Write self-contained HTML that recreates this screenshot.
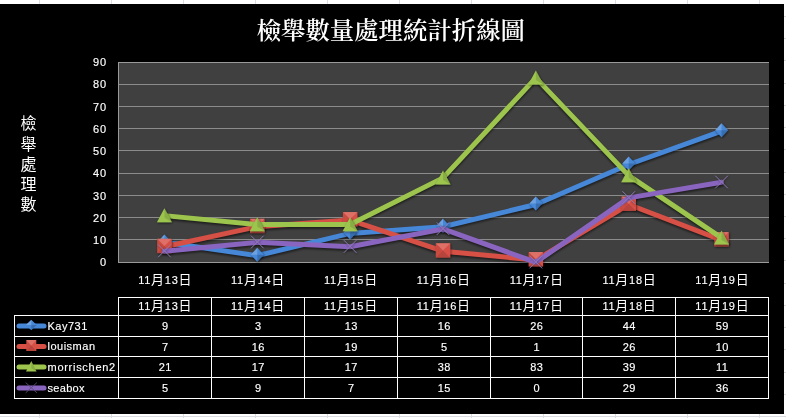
<!DOCTYPE html><html><head><meta charset="utf-8"><title>檢舉數量處理統計折線圖</title><style>
html,body{margin:0;padding:0;background:#fff;}body{width:786px;height:418px;overflow:hidden;position:relative;}
svg{position:absolute;left:0;top:0;display:block;}
.t{font-family:"Liberation Sans","Noto Sans CJK TC","Noto Sans CJK SC",sans-serif;fill:#fff;stroke:#fff;stroke-width:0.15px;}.n{letter-spacing:0.5px;}.c{letter-spacing:0.72px;}.yl{letter-spacing:1px;}
.ttl{font-family:"Liberation Serif","Noto Serif CJK TC","Noto Serif CJK SC",serif;fill:#fff;font-weight:600;}
</style></head><body>
<svg width="786" height="418" viewBox="0 0 786 418">
<defs><filter id="sh" x="-5%" y="-10%" width="110%" height="130%"><feGaussianBlur stdDeviation="0.8"/></filter><filter id="ms" x="-30%" y="-30%" width="160%" height="160%"><feDropShadow dx="0.6" dy="0.9" stdDeviation="0.9" flood-color="#000" flood-opacity="0.65"/></filter></defs>
<g stroke="#d9dce1" stroke-width="1" shape-rendering="crispEdges">
<line x1="39.5" y1="0" x2="39.5" y2="418"/>
<line x1="111.5" y1="0" x2="111.5" y2="418"/>
<line x1="183.5" y1="0" x2="183.5" y2="418"/>
<line x1="255.5" y1="0" x2="255.5" y2="418"/>
<line x1="327.5" y1="0" x2="327.5" y2="418"/>
<line x1="399.5" y1="0" x2="399.5" y2="418"/>
<line x1="471.5" y1="0" x2="471.5" y2="418"/>
<line x1="543.5" y1="0" x2="543.5" y2="418"/>
<line x1="615.5" y1="0" x2="615.5" y2="418"/>
<line x1="687.5" y1="0" x2="687.5" y2="418"/>
<line x1="759.5" y1="0" x2="759.5" y2="418"/>
<line x1="0" y1="16.5" x2="786" y2="16.5"/>
<line x1="0" y1="38.5" x2="786" y2="38.5"/>
<line x1="0" y1="60.5" x2="786" y2="60.5"/>
<line x1="0" y1="83.5" x2="786" y2="83.5"/>
<line x1="0" y1="105.5" x2="786" y2="105.5"/>
<line x1="0" y1="127.5" x2="786" y2="127.5"/>
<line x1="0" y1="149.5" x2="786" y2="149.5"/>
<line x1="0" y1="172.5" x2="786" y2="172.5"/>
<line x1="0" y1="194.5" x2="786" y2="194.5"/>
<line x1="0" y1="216.5" x2="786" y2="216.5"/>
<line x1="0" y1="238.5" x2="786" y2="238.5"/>
<line x1="0" y1="260.5" x2="786" y2="260.5"/>
<line x1="0" y1="283.5" x2="786" y2="283.5"/>
<line x1="0" y1="305.5" x2="786" y2="305.5"/>
<line x1="0" y1="327.5" x2="786" y2="327.5"/>
<line x1="0" y1="349.5" x2="786" y2="349.5"/>
<line x1="0" y1="372.5" x2="786" y2="372.5"/>
<line x1="0" y1="394.5" x2="786" y2="394.5"/>
<line x1="0" y1="416.5" x2="786" y2="416.5"/>
</g>
<rect x="0" y="4" width="784" height="410" fill="#000"/>
<rect x="119" y="63" width="650" height="199" fill="#404040"/>
<g stroke="#8c8c8c" stroke-width="1" shape-rendering="crispEdges">
<line x1="119" y1="84.5" x2="769" y2="84.5"/>
<line x1="119" y1="106.5" x2="769" y2="106.5"/>
<line x1="119" y1="128.5" x2="769" y2="128.5"/>
<line x1="119" y1="150.5" x2="769" y2="150.5"/>
<line x1="119" y1="173.5" x2="769" y2="173.5"/>
<line x1="119" y1="195.5" x2="769" y2="195.5"/>
<line x1="119" y1="217.5" x2="769" y2="217.5"/>
<line x1="119" y1="239.5" x2="769" y2="239.5"/>
</g>
<g stroke="#9a9a9a" stroke-width="1" shape-rendering="crispEdges" fill="none">
<line x1="118" y1="62.5" x2="769" y2="62.5"/>
<line x1="118.5" y1="62" x2="118.5" y2="263"/>
<line x1="118" y1="262.5" x2="769" y2="262.5"/>
</g>
<text class="t yl" x="107.2" y="266" font-size="11" text-anchor="end">0</text>
<text class="t yl" x="107.2" y="244" font-size="11" text-anchor="end">10</text>
<text class="t yl" x="107.2" y="222" font-size="11" text-anchor="end">20</text>
<text class="t yl" x="107.2" y="200" font-size="11" text-anchor="end">30</text>
<text class="t yl" x="107.2" y="177" font-size="11" text-anchor="end">40</text>
<text class="t yl" x="107.2" y="155" font-size="11" text-anchor="end">50</text>
<text class="t yl" x="107.2" y="133" font-size="11" text-anchor="end">60</text>
<text class="t yl" x="107.2" y="111" font-size="11" text-anchor="end">70</text>
<text class="t yl" x="107.2" y="88" font-size="11" text-anchor="end">80</text>
<text class="t yl" x="107.2" y="66" font-size="11" text-anchor="end">90</text>
<text class="t c" x="165.23" y="284.4" font-size="11" text-anchor="middle">11<tspan font-size="13" style="stroke:none">月</tspan>13<tspan font-size="13" style="stroke:none">日</tspan></text>
<text class="t c" x="258.09" y="284.4" font-size="11" text-anchor="middle">11<tspan font-size="13" style="stroke:none">月</tspan>14<tspan font-size="13" style="stroke:none">日</tspan></text>
<text class="t c" x="350.94" y="284.4" font-size="11" text-anchor="middle">11<tspan font-size="13" style="stroke:none">月</tspan>15<tspan font-size="13" style="stroke:none">日</tspan></text>
<text class="t c" x="443.8" y="284.4" font-size="11" text-anchor="middle">11<tspan font-size="13" style="stroke:none">月</tspan>16<tspan font-size="13" style="stroke:none">日</tspan></text>
<text class="t c" x="536.66" y="284.4" font-size="11" text-anchor="middle">11<tspan font-size="13" style="stroke:none">月</tspan>17<tspan font-size="13" style="stroke:none">日</tspan></text>
<text class="t c" x="629.51" y="284.4" font-size="11" text-anchor="middle">11<tspan font-size="13" style="stroke:none">月</tspan>18<tspan font-size="13" style="stroke:none">日</tspan></text>
<text class="t c" x="722.37" y="284.4" font-size="11" text-anchor="middle">11<tspan font-size="13" style="stroke:none">月</tspan>19<tspan font-size="13" style="stroke:none">日</tspan></text>
<g filter="url(#sh)" opacity="0.55">
<polyline points="164.43,244 257.29,257.33 350.14,235.11 443,228.44 535.86,206.22 628.71,166.22 721.57,132.89" fill="none" stroke="#000" stroke-width="5" stroke-linejoin="round" stroke-linecap="round"/>
<polyline points="164.43,248.44 257.29,228.44 350.14,221.78 443,252.89 535.86,261.78 628.71,206.22 721.57,241.78" fill="none" stroke="#000" stroke-width="5" stroke-linejoin="round" stroke-linecap="round"/>
<polyline points="164.43,217.33 257.29,226.22 350.14,226.22 443,179.56 535.86,79.56 628.71,177.33 721.57,239.56" fill="none" stroke="#000" stroke-width="5" stroke-linejoin="round" stroke-linecap="round"/>
<polyline points="164.43,252.89 257.29,244 350.14,248.44 443,230.67 535.86,264 628.71,199.56 721.57,184" fill="none" stroke="#000" stroke-width="5" stroke-linejoin="round" stroke-linecap="round"/>
</g>
<polyline points="164.43,242.3 257.29,255.63 350.14,233.41 443,226.74 535.86,204.52 628.71,164.52 721.57,131.19" fill="none" stroke="#4687d7" stroke-width="5" stroke-linejoin="round" stroke-linecap="round"/>
<g filter="url(#ms)">
<polygon points="164.43,234.4 170.83,241.4 164.43,248.4 158.03,241.4" fill="#4687d7"/><polygon points="164.43,234.4 158.03,241.4 164.43,241.4" fill="#fff" fill-opacity="0.22"/><polygon points="164.43,248.4 170.83,241.4 164.43,241.4" fill="#000" fill-opacity="0.18"/>
<polygon points="257.29,247.73 263.69,254.73 257.29,261.73 250.89,254.73" fill="#4687d7"/><polygon points="257.29,247.73 250.89,254.73 257.29,254.73" fill="#fff" fill-opacity="0.22"/><polygon points="257.29,261.73 263.69,254.73 257.29,254.73" fill="#000" fill-opacity="0.18"/>
<polygon points="350.14,225.51 356.54,232.51 350.14,239.51 343.74,232.51" fill="#4687d7"/><polygon points="350.14,225.51 343.74,232.51 350.14,232.51" fill="#fff" fill-opacity="0.22"/><polygon points="350.14,239.51 356.54,232.51 350.14,232.51" fill="#000" fill-opacity="0.18"/>
<polygon points="443,218.84 449.4,225.84 443,232.84 436.6,225.84" fill="#4687d7"/><polygon points="443,218.84 436.6,225.84 443,225.84" fill="#fff" fill-opacity="0.22"/><polygon points="443,232.84 449.4,225.84 443,225.84" fill="#000" fill-opacity="0.18"/>
<polygon points="535.86,196.62 542.26,203.62 535.86,210.62 529.46,203.62" fill="#4687d7"/><polygon points="535.86,196.62 529.46,203.62 535.86,203.62" fill="#fff" fill-opacity="0.22"/><polygon points="535.86,210.62 542.26,203.62 535.86,203.62" fill="#000" fill-opacity="0.18"/>
<polygon points="628.71,156.62 635.11,163.62 628.71,170.62 622.31,163.62" fill="#4687d7"/><polygon points="628.71,156.62 622.31,163.62 628.71,163.62" fill="#fff" fill-opacity="0.22"/><polygon points="628.71,170.62 635.11,163.62 628.71,163.62" fill="#000" fill-opacity="0.18"/>
<polygon points="721.57,123.29 727.97,130.29 721.57,137.29 715.17,130.29" fill="#4687d7"/><polygon points="721.57,123.29 715.17,130.29 721.57,130.29" fill="#fff" fill-opacity="0.22"/><polygon points="721.57,137.29 727.97,130.29 721.57,130.29" fill="#000" fill-opacity="0.18"/>
</g>
<polyline points="164.43,246.74 257.29,226.74 350.14,220.08 443,251.19 535.86,260.08 628.71,204.52 721.57,240.08" fill="none" stroke="#d75046" stroke-width="5" stroke-linejoin="round" stroke-linecap="round"/>
<g filter="url(#ms)">
<rect x="157.23" y="238.74" width="14.4" height="14.4" fill="#d75046"/><polygon points="157.23,238.74 171.63,238.74 164.43,245.94" fill="#fff" fill-opacity="0.18"/><polygon points="157.23,253.14 171.63,253.14 164.43,245.94" fill="#000" fill-opacity="0.14"/><polygon points="157.23,238.74 157.23,253.14 164.43,245.94" fill="#000" fill-opacity="0.06"/>
<rect x="250.09" y="218.74" width="14.4" height="14.4" fill="#d75046"/><polygon points="250.09,218.74 264.49,218.74 257.29,225.94" fill="#fff" fill-opacity="0.18"/><polygon points="250.09,233.14 264.49,233.14 257.29,225.94" fill="#000" fill-opacity="0.14"/><polygon points="250.09,218.74 250.09,233.14 257.29,225.94" fill="#000" fill-opacity="0.06"/>
<rect x="342.94" y="212.08" width="14.4" height="14.4" fill="#d75046"/><polygon points="342.94,212.08 357.34,212.08 350.14,219.28" fill="#fff" fill-opacity="0.18"/><polygon points="342.94,226.48 357.34,226.48 350.14,219.28" fill="#000" fill-opacity="0.14"/><polygon points="342.94,212.08 342.94,226.48 350.14,219.28" fill="#000" fill-opacity="0.06"/>
<rect x="435.8" y="243.19" width="14.4" height="14.4" fill="#d75046"/><polygon points="435.8,243.19 450.2,243.19 443,250.39" fill="#fff" fill-opacity="0.18"/><polygon points="435.8,257.59 450.2,257.59 443,250.39" fill="#000" fill-opacity="0.14"/><polygon points="435.8,243.19 435.8,257.59 443,250.39" fill="#000" fill-opacity="0.06"/>
<rect x="528.66" y="252.08" width="14.4" height="14.4" fill="#d75046"/><polygon points="528.66,252.08 543.06,252.08 535.86,259.28" fill="#fff" fill-opacity="0.18"/><polygon points="528.66,266.48 543.06,266.48 535.86,259.28" fill="#000" fill-opacity="0.14"/><polygon points="528.66,252.08 528.66,266.48 535.86,259.28" fill="#000" fill-opacity="0.06"/>
<rect x="621.51" y="196.52" width="14.4" height="14.4" fill="#d75046"/><polygon points="621.51,196.52 635.91,196.52 628.71,203.72" fill="#fff" fill-opacity="0.18"/><polygon points="621.51,210.92 635.91,210.92 628.71,203.72" fill="#000" fill-opacity="0.14"/><polygon points="621.51,196.52 621.51,210.92 628.71,203.72" fill="#000" fill-opacity="0.06"/>
<rect x="714.37" y="232.08" width="14.4" height="14.4" fill="#d75046"/><polygon points="714.37,232.08 728.77,232.08 721.57,239.28" fill="#fff" fill-opacity="0.18"/><polygon points="714.37,246.48 728.77,246.48 721.57,239.28" fill="#000" fill-opacity="0.14"/><polygon points="714.37,232.08 714.37,246.48 721.57,239.28" fill="#000" fill-opacity="0.06"/>
</g>
<polyline points="164.43,215.63 257.29,224.52 350.14,224.52 443,177.86 535.86,77.86 628.71,175.63 721.57,237.86" fill="none" stroke="#9dc54e" stroke-width="5" stroke-linejoin="round" stroke-linecap="round"/>
<g filter="url(#ms)">
<polygon points="164.43,208.33 171.93,222.33 156.93,222.33" fill="#9dc54e"/><polygon points="164.43,208.33 171.93,222.33 164.43,217.78" fill="#000" fill-opacity="0.12"/>
<polygon points="257.29,217.22 264.79,231.22 249.79,231.22" fill="#9dc54e"/><polygon points="257.29,217.22 264.79,231.22 257.29,226.67" fill="#000" fill-opacity="0.12"/>
<polygon points="350.14,217.22 357.64,231.22 342.64,231.22" fill="#9dc54e"/><polygon points="350.14,217.22 357.64,231.22 350.14,226.67" fill="#000" fill-opacity="0.12"/>
<polygon points="443,170.56 450.5,184.56 435.5,184.56" fill="#9dc54e"/><polygon points="443,170.56 450.5,184.56 443,180.01" fill="#000" fill-opacity="0.12"/>
<polygon points="535.86,70.56 543.36,84.56 528.36,84.56" fill="#9dc54e"/><polygon points="535.86,70.56 543.36,84.56 535.86,80.01" fill="#000" fill-opacity="0.12"/>
<polygon points="628.71,168.33 636.21,182.33 621.21,182.33" fill="#9dc54e"/><polygon points="628.71,168.33 636.21,182.33 628.71,177.78" fill="#000" fill-opacity="0.12"/>
<polygon points="721.57,230.56 729.07,244.56 714.07,244.56" fill="#9dc54e"/><polygon points="721.57,230.56 729.07,244.56 721.57,240.01" fill="#000" fill-opacity="0.12"/>
</g>
<polyline points="164.43,251.19 257.29,242.3 350.14,246.74 443,228.97 535.86,262.3 628.71,197.86 721.57,182.3" fill="none" stroke="#8a65c0" stroke-width="5" stroke-linejoin="round" stroke-linecap="round"/>
<g filter="url(#ms)">
<path d="M158.13 244.59L170.73 257.19M170.73 244.59L158.13 257.19" stroke="#8e7bb9" stroke-width="0.9" fill="none"/>
<path d="M250.99 235.7L263.59 248.3M263.59 235.7L250.99 248.3" stroke="#8e7bb9" stroke-width="0.9" fill="none"/>
<path d="M343.84 240.14L356.44 252.74M356.44 240.14L343.84 252.74" stroke="#8e7bb9" stroke-width="0.9" fill="none"/>
<path d="M436.7 222.37L449.3 234.97M449.3 222.37L436.7 234.97" stroke="#8e7bb9" stroke-width="0.9" fill="none"/>
<path d="M529.56 255.7L542.16 268.3M542.16 255.7L529.56 268.3" stroke="#8e7bb9" stroke-width="0.9" fill="none"/>
<path d="M622.41 191.26L635.01 203.86M635.01 191.26L622.41 203.86" stroke="#8e7bb9" stroke-width="0.9" fill="none"/>
<path d="M715.27 175.7L727.87 188.3M727.87 175.7L715.27 188.3" stroke="#8e7bb9" stroke-width="0.9" fill="none"/>
</g>
<text class="ttl" x="390.8" y="39" font-size="24.4" text-anchor="middle">檢舉數量處理統計折線圖</text>
<text class="t" x="28.4" y="129.40" font-size="16" text-anchor="middle" style="stroke:none">檢</text>
<text class="t" x="28.4" y="149.55" font-size="16" text-anchor="middle" style="stroke:none">舉</text>
<text class="t" x="28.4" y="169.70" font-size="16" text-anchor="middle" style="stroke:none">處</text>
<text class="t" x="28.4" y="189.85" font-size="16" text-anchor="middle" style="stroke:none">理</text>
<text class="t" x="28.4" y="210.00" font-size="16" text-anchor="middle" style="stroke:none">數</text>
<g stroke="#fff" stroke-width="1" shape-rendering="crispEdges">
<line x1="118" y1="297.5" x2="769" y2="297.5"/>
<line x1="14" y1="315.5" x2="769" y2="315.5"/>
<line x1="14" y1="336.5" x2="769" y2="336.5"/>
<line x1="14" y1="356.5" x2="769" y2="356.5"/>
<line x1="14" y1="377.5" x2="769" y2="377.5"/>
<line x1="14" y1="398.5" x2="769" y2="398.5"/>
<line x1="14.5" y1="315" x2="14.5" y2="399"/>
<line x1="118.5" y1="297" x2="118.5" y2="399"/>
<line x1="211.5" y1="297" x2="211.5" y2="399"/>
<line x1="304.5" y1="297" x2="304.5" y2="399"/>
<line x1="397.5" y1="297" x2="397.5" y2="399"/>
<line x1="490.5" y1="297" x2="490.5" y2="399"/>
<line x1="582.5" y1="297" x2="582.5" y2="399"/>
<line x1="675.5" y1="297" x2="675.5" y2="399"/>
<line x1="768.5" y1="297" x2="768.5" y2="399"/>
</g>
<text class="t c" x="165.23" y="310" font-size="11" text-anchor="middle">11<tspan font-size="13" style="stroke:none">月</tspan>13<tspan font-size="13" style="stroke:none">日</tspan></text>
<text class="t c" x="258.09" y="310" font-size="11" text-anchor="middle">11<tspan font-size="13" style="stroke:none">月</tspan>14<tspan font-size="13" style="stroke:none">日</tspan></text>
<text class="t c" x="350.94" y="310" font-size="11" text-anchor="middle">11<tspan font-size="13" style="stroke:none">月</tspan>15<tspan font-size="13" style="stroke:none">日</tspan></text>
<text class="t c" x="443.8" y="310" font-size="11" text-anchor="middle">11<tspan font-size="13" style="stroke:none">月</tspan>16<tspan font-size="13" style="stroke:none">日</tspan></text>
<text class="t c" x="536.66" y="310" font-size="11" text-anchor="middle">11<tspan font-size="13" style="stroke:none">月</tspan>17<tspan font-size="13" style="stroke:none">日</tspan></text>
<text class="t c" x="629.51" y="310" font-size="11" text-anchor="middle">11<tspan font-size="13" style="stroke:none">月</tspan>18<tspan font-size="13" style="stroke:none">日</tspan></text>
<text class="t c" x="722.37" y="310" font-size="11" text-anchor="middle">11<tspan font-size="13" style="stroke:none">月</tspan>19<tspan font-size="13" style="stroke:none">日</tspan></text>
<line x1="19" y1="326" x2="44" y2="326" stroke="#4687d7" stroke-width="5" stroke-linecap="round"/>
<polygon points="31.3,319.7 36.8,325 31.3,330.3 25.8,325" fill="#4687d7"/><polygon points="31.3,319.7 25.8,325 31.3,325" fill="#fff" fill-opacity="0.22"/><polygon points="31.3,330.3 36.8,325 31.3,325" fill="#000" fill-opacity="0.18"/>
<text class="t" x="47.5" y="329.5" font-size="11" letter-spacing="0.5">Kay731</text>
<text class="t n" x="165.25" y="330" font-size="11" text-anchor="middle">9</text>
<text class="t n" x="258.25" y="330" font-size="11" text-anchor="middle">3</text>
<text class="t n" x="351.25" y="330" font-size="11" text-anchor="middle">13</text>
<text class="t n" x="444.25" y="330" font-size="11" text-anchor="middle">16</text>
<text class="t n" x="536.75" y="330" font-size="11" text-anchor="middle">26</text>
<text class="t n" x="629.25" y="330" font-size="11" text-anchor="middle">44</text>
<text class="t n" x="722.25" y="330" font-size="11" text-anchor="middle">59</text>
<line x1="19" y1="346.5" x2="44" y2="346.5" stroke="#d75046" stroke-width="5" stroke-linecap="round"/>
<rect x="26.3" y="340" width="10" height="11" fill="#d75046"/><polygon points="26.3,340 36.3,340 31.3,345.5" fill="#fff" fill-opacity="0.18"/><polygon points="26.3,351 36.3,351 31.3,345.5" fill="#000" fill-opacity="0.14"/><polygon points="26.3,340 26.3,351 31.3,345.5" fill="#000" fill-opacity="0.06"/>
<text class="t" x="47.5" y="350" font-size="11" letter-spacing="0.5">louisman</text>
<text class="t n" x="165.25" y="350.5" font-size="11" text-anchor="middle">7</text>
<text class="t n" x="258.25" y="350.5" font-size="11" text-anchor="middle">16</text>
<text class="t n" x="351.25" y="350.5" font-size="11" text-anchor="middle">19</text>
<text class="t n" x="444.25" y="350.5" font-size="11" text-anchor="middle">5</text>
<text class="t n" x="536.75" y="350.5" font-size="11" text-anchor="middle">1</text>
<text class="t n" x="629.25" y="350.5" font-size="11" text-anchor="middle">26</text>
<text class="t n" x="722.25" y="350.5" font-size="11" text-anchor="middle">10</text>
<line x1="19" y1="367" x2="44" y2="367" stroke="#9dc54e" stroke-width="5" stroke-linecap="round"/>
<polygon points="31.3,361 36.6,371.6 26,371.6" fill="#9dc54e"/><polygon points="31.3,361 36.6,371.6 31.3,368.16" fill="#000" fill-opacity="0.12"/>
<text class="t" x="47.5" y="370.5" font-size="11" letter-spacing="0.72">morrischen2</text>
<text class="t n" x="165.25" y="371" font-size="11" text-anchor="middle">21</text>
<text class="t n" x="258.25" y="371" font-size="11" text-anchor="middle">17</text>
<text class="t n" x="351.25" y="371" font-size="11" text-anchor="middle">17</text>
<text class="t n" x="444.25" y="371" font-size="11" text-anchor="middle">38</text>
<text class="t n" x="536.75" y="371" font-size="11" text-anchor="middle">83</text>
<text class="t n" x="629.25" y="371" font-size="11" text-anchor="middle">39</text>
<text class="t n" x="722.25" y="371" font-size="11" text-anchor="middle">11</text>
<line x1="19" y1="388" x2="44" y2="388" stroke="#8a65c0" stroke-width="5" stroke-linecap="round"/>
<path d="M25.7 382.6L36.9 392.8M36.9 382.6L25.7 392.8" stroke="#5c4c7c" stroke-width="0.9" fill="none"/>
<text class="t" x="47.5" y="391.5" font-size="11" letter-spacing="0.3">seabox</text>
<text class="t n" x="165.25" y="392" font-size="11" text-anchor="middle">5</text>
<text class="t n" x="258.25" y="392" font-size="11" text-anchor="middle">9</text>
<text class="t n" x="351.25" y="392" font-size="11" text-anchor="middle">7</text>
<text class="t n" x="444.25" y="392" font-size="11" text-anchor="middle">15</text>
<text class="t n" x="536.75" y="392" font-size="11" text-anchor="middle">0</text>
<text class="t n" x="629.25" y="392" font-size="11" text-anchor="middle">29</text>
<text class="t n" x="722.25" y="392" font-size="11" text-anchor="middle">36</text>
</svg></body></html>
